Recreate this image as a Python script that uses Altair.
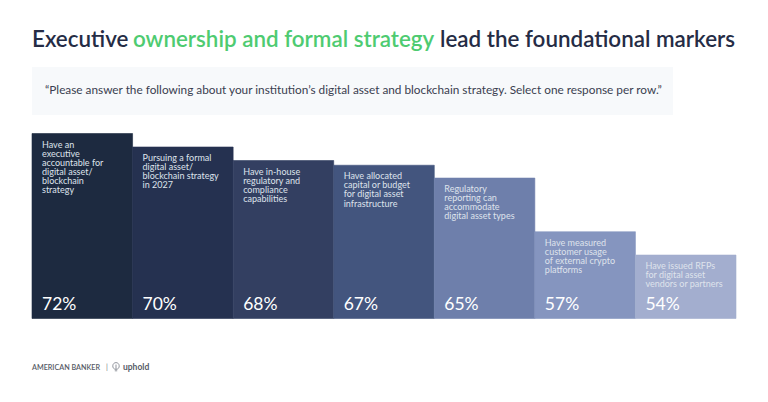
import altair as alt
import pandas as pd

# bar labels, left to right
labels = [
    "Have an\nexecutive\naccountable for\ndigital asset/\nblockchain\nstrategy",
    "Pursuing a formal\ndigital asset/\nblockchain strategy\nin 2027",
    "Have in-house\nregulatory and\ncompliance\ncapabilities",
    "Have allocated\ncapital or budget\nfor digital asset\ninfrastructure",
    "Regulatory\nreporting can\naccommodate\ndigital asset types",
    "Have measured\ncustomer usage\nof external crypto\nplatforms",
    "Have issued RFPs\nfor digital asset\nvendors or partners",
]
shares = [72.0, 70.0, 68.0, 67.3, 65.4, 57.45, 54.0]
bar_colors = ["#1d2a40", "#253150", "#333f61", "#43557e", "#6e7fab", "#8595bf", "#a3aecf"]

title_parts = ["Executive", "ownership and formal strategy", "lead the foundational markers"]
question = "\u201cPlease answer the following about your institution\u2019s digital asset and blockchain strategy. Select one response per row.\u201d"

FONT = "Lato"
DARK = "#252c45"
GREEN = "#4ecb71"

df = pd.DataFrame({"label": labels, "share": shares, "base": [44.6] * len(labels)})

x_scale = alt.Scale(range=[24, 728], paddingInner=0, paddingOuter=0)
x = alt.X("label:N", sort=labels, axis=None, scale=x_scale)
left_x = alt.X("label:N", sort=labels, axis=None, bandPosition=0, scale=x_scale)
y = alt.Y("share:Q", axis=None, scale=alt.Scale(domain=[44.6, 72], range=[310.5, 125.5], nice=False, zero=False))
bar_scale = alt.Scale(domain=labels, range=bar_colors)

base = alt.Chart(df)

# stroke in the bar's own colour hides the seams between neighbours
bars = base.mark_bar(strokeWidth=0.6).encode(
    x=x,
    y=y,
    y2=alt.Y2("base:Q"),
    color=alt.Color("label:N", sort=labels, legend=None, scale=bar_scale),
    stroke=alt.Stroke("label:N", sort=labels, legend=None, scale=bar_scale),
)

captions = base.mark_text(
    font=FONT, fontSize=9, lineHeight=9.1, lineBreak="\n", align="left", baseline="top",
    dx=10, dy=7, color="#dfe3ec",
).encode(x=left_x, y=y, text="label:N")

pct = base.transform_calculate(pct="format(datum.share, '.0f') + '%'").mark_text(
    font=FONT, fontSize=17.5, align="left", baseline="alphabetic", dx=10, color="white",
).encode(x=left_x, y=alt.value(302), text="pct:N")


def note(text, px, py, size, color, weight=400):
    return alt.Chart(pd.DataFrame({"t": [text]})).mark_text(
        font=FONT, fontSize=size, color=color, fontWeight=weight, align="left", baseline="alphabetic",
    ).encode(x=alt.value(px), y=alt.value(py), text="t:N")


box = alt.Chart(pd.DataFrame({"t": [0]})).mark_rect(color="#f7f9fb").encode(
    x=alt.value(24), x2=alt.value(665), y=alt.value(59), y2=alt.value(107)
)

# uphold logo, a ring with a stem
logo = alt.Chart(pd.DataFrame({"t": [0]})).mark_point(
    shape="M-0.8,-0.3 A0.8,0.8 0 1 1 0.8,-0.3 A0.8,0.8 0 0 1 0,0.6 A0.8,0.8 0 0 1 -0.8,-0.3 M-0.3,0.95 L0.3,0.95 M0,-0.6 L0,0.6",
    size=64, color="#555a66", strokeWidth=0.9, filled=False,
).encode(x=alt.value(108), y=alt.value(359))

head = [
    note(title_parts[0], 24, 39, 22.4, DARK, 600),
    note(title_parts[1], 125, 39, 22.4, GREEN, 600),
    note(title_parts[2], 432, 39, 22.4, DARK, 600),
    note(question, 37, 86, 11.8, "#3a4050"),
]
foot = [
    note("AMERICAN BANKER", 24, 362, 7.2, "#555a66", 600),
    note("|", 98, 362, 7.5, "#777c88"),
    note("uphold", 115, 362, 8.5, "#555a66", 700),
]

chart = alt.layer(box, bars, captions, pct, *head, logo, *foot).properties(
    width=752,
    height=386,
    padding=0,
    autosize=alt.AutoSizeParams(type="none"),
    background="white",
).configure_view(stroke=None)

chart.save("out.html", embed_options={"renderer": "svg", "actions": False})
